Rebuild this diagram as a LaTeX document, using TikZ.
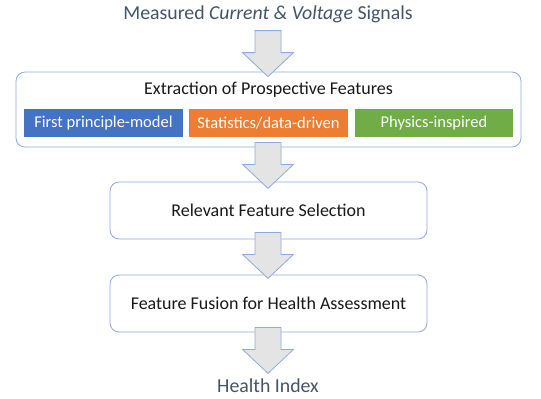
\documentclass[tikz,border=0pt]{standalone}
\usepackage{fontspec}
\setmainfont{Carlito}
\usetikzlibrary{calc}
\definecolor{titlegray}{HTML}{44546A}
\definecolor{boxline}{HTML}{8FAADC}
\definecolor{arrowfill}{HTML}{E4E4E4}
\definecolor{modelblue}{HTML}{4472C4}
\definecolor{statorange}{HTML}{ED7D31}
\definecolor{physgreen}{HTML}{70AD47}
\tikzset{
  stagebox/.style={draw=boxline, rounded corners=9pt, fill=white, line width=0.8pt, inner sep=0pt},
  methodbox/.style={minimum height=28pt, text=white, inner sep=0pt, font=\fontsize{16.5}{19}\selectfont},
  bigarrow/.style={draw=boxline, fill=arrowfill, line width=0.8pt},
  endtext/.style={text=titlegray, font=\fontsize{19.8}{23}\selectfont},
  stagetext/.style={font=\fontsize{18}{21}\selectfont, text=black!90},
}
% block arrow hanging below the given point
\newcommand{\blockarrow}[1]{%
  \draw[bigarrow] ($#1+(-13,0)$) -- ++(0,22) -- ++(-12.5,0) -- ($#1+(0,46)$)
    -- ($#1+(25.5,22)$) -- ++(-12.5,0) -- ($#1+(13,0)$) -- cycle;}

\begin{document}
\begin{tikzpicture}[x=1pt, y=-1pt]
    \useasboundingbox (0,0) rectangle (541,399);

    \node[endtext] (signals) at (268, 14) {Measured \textit{Current \& Voltage} Signals};

    % extraction stage
    \node[stagebox, minimum width=505pt, minimum height=75pt] (extract) at (268.5, 109.5) {};
    \node[stagetext] (extracttitle) at (268.5, 90) {Extraction of Prospective Features};
    \node[methodbox, fill=modelblue, minimum width=159pt] (model) at (103.5, 123) {First principle-model};
    \node[methodbox, fill=statorange, minimum width=159pt] (stats) at (268.5, 123) {Statistics/data-driven};
    \node[methodbox, fill=physgreen, minimum width=158pt] (physics) at (434, 123) {Physics-inspired};

    \node[stagebox, stagetext, minimum width=317pt, minimum height=57pt] (select) at (268.5, 210.5) {Relevant Feature Selection};
    \node[stagebox, stagetext, minimum width=317pt, minimum height=57pt] (fusion) at (268.5, 303.5) {Feature Fusion for Health Assessment};

    \node[endtext] (index) at (268, 386) {Health Index};

    \blockarrow{(extract.north -| signals)+(0,-41)}
    \blockarrow{(extract.south -| signals)+(0,-5)}
    \blockarrow{(select.south -| signals)+(0,-7)}
    \blockarrow{(fusion.south -| signals)+(0,-5)}
\end{tikzpicture}
\end{document}
